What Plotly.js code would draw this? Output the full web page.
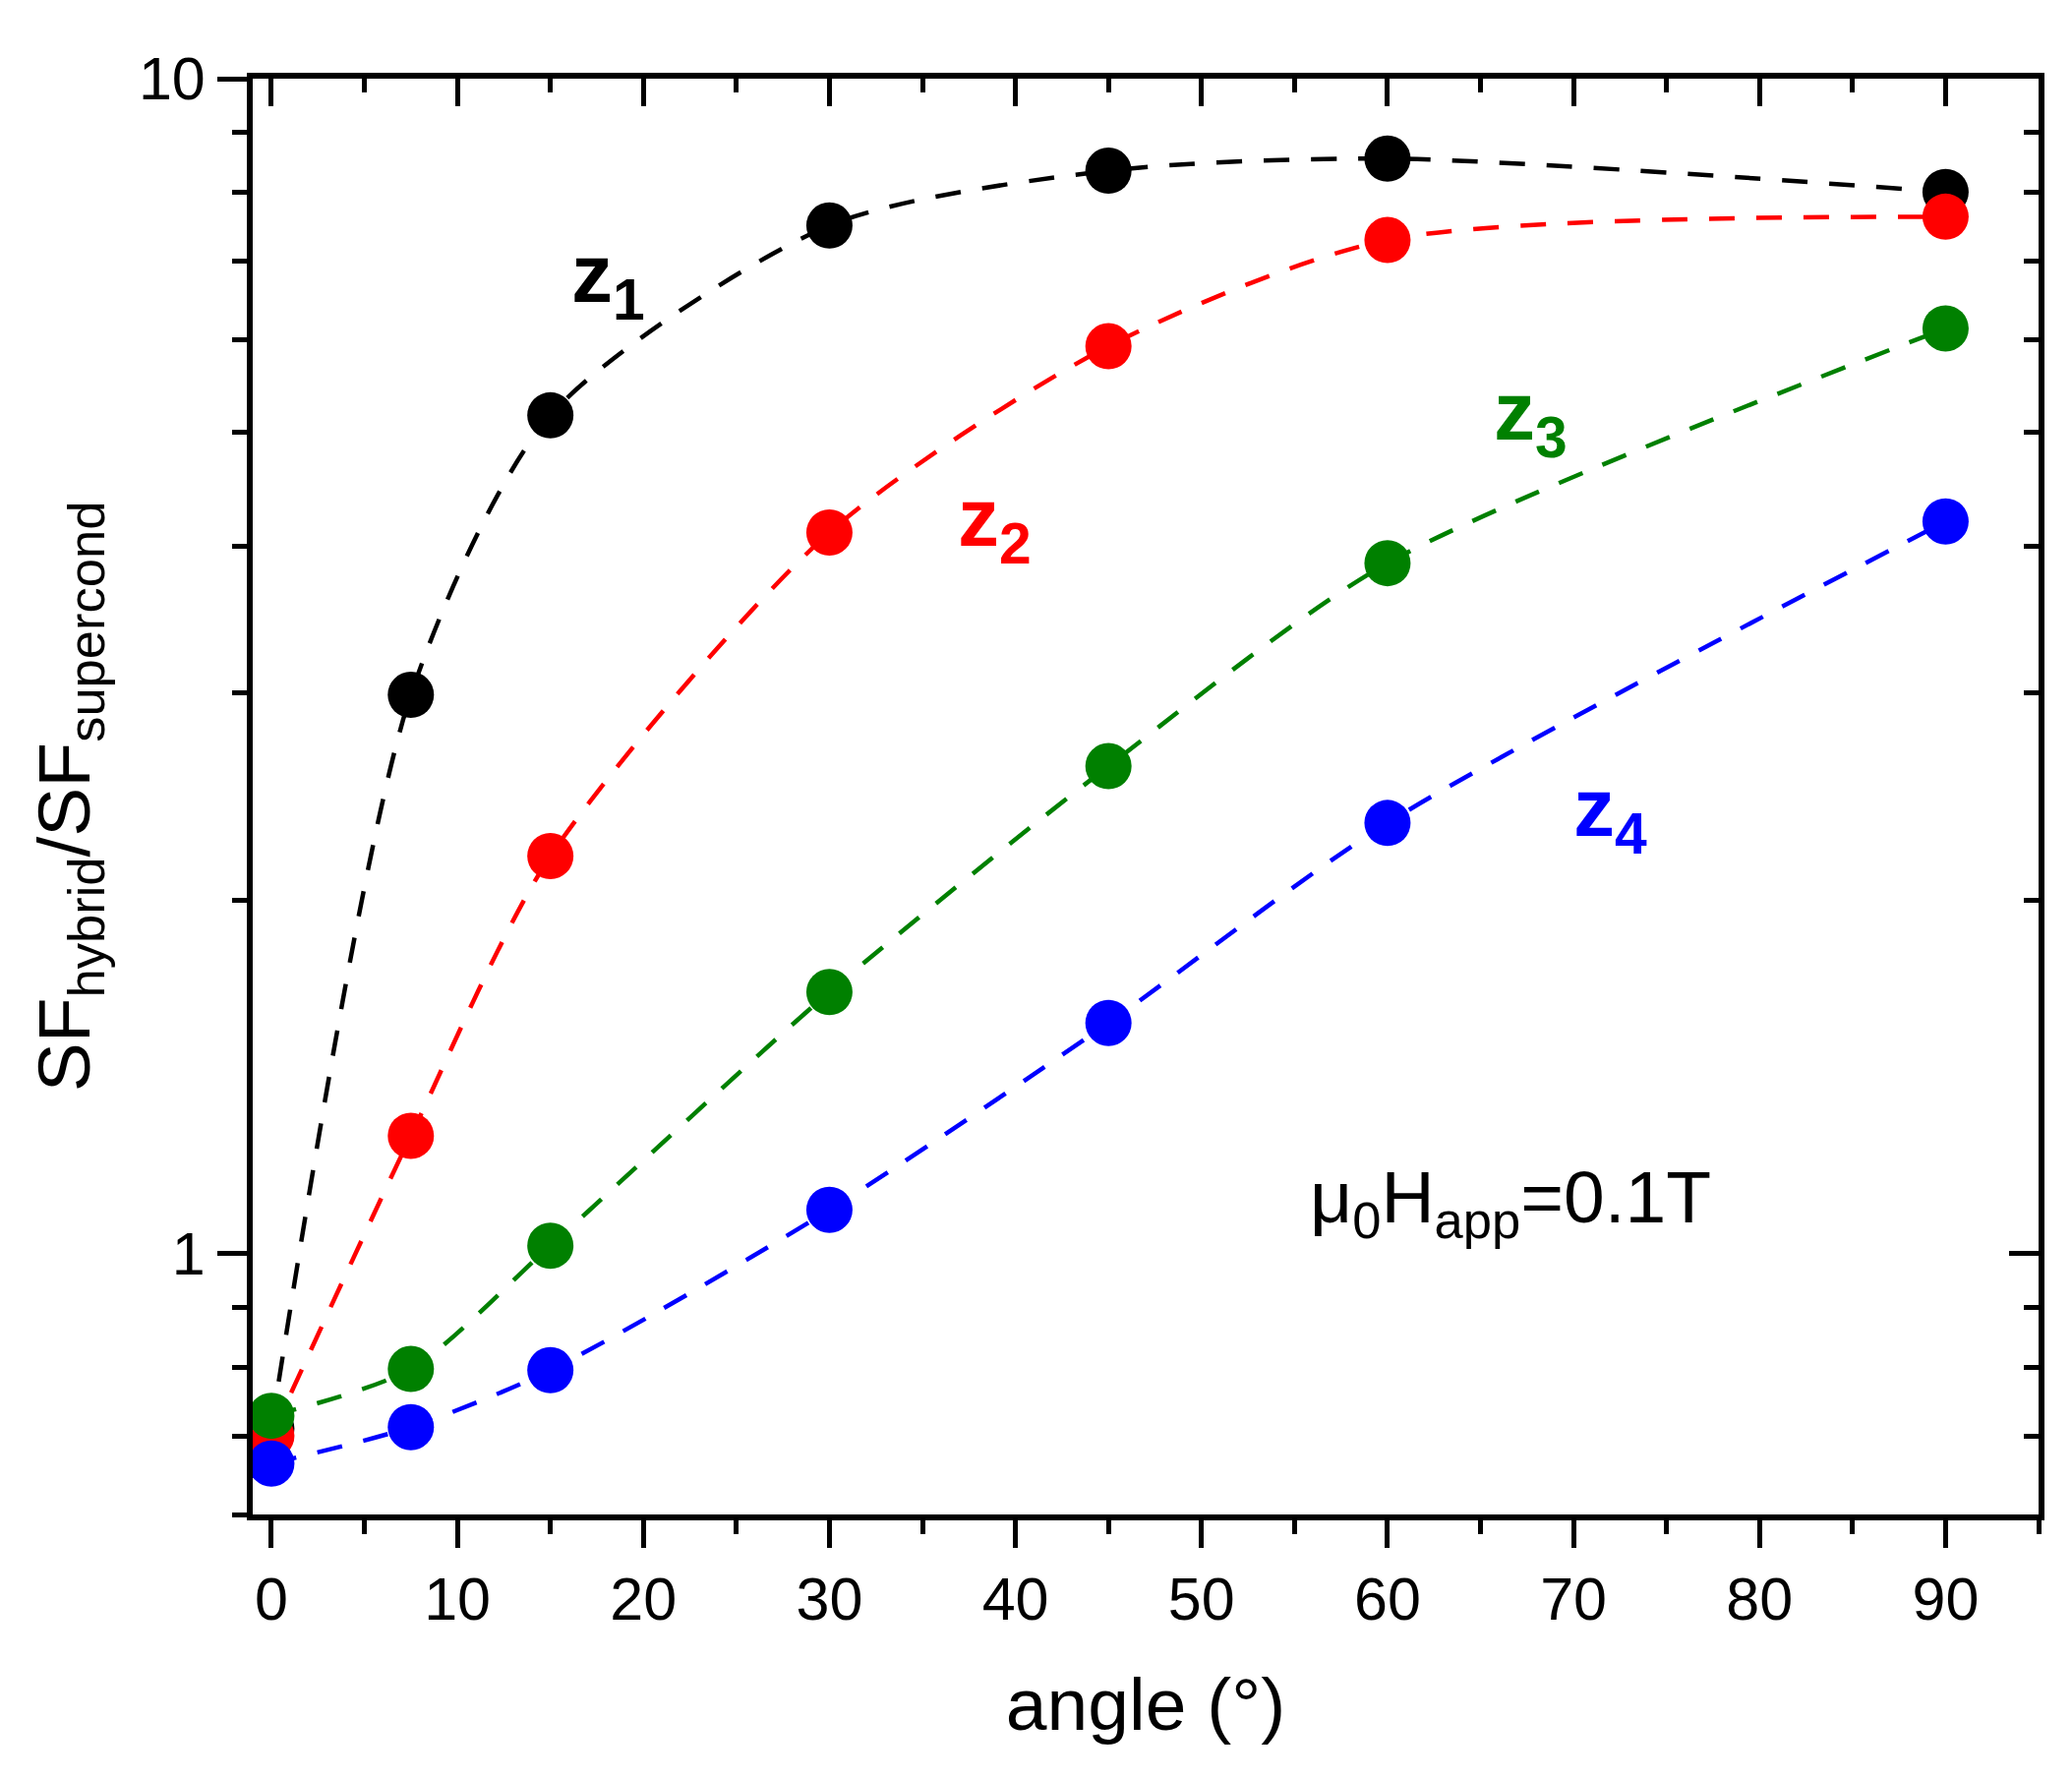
<!DOCTYPE html>
<html>
<head>
<meta charset="utf-8">
<script src="https://cdn.plot.ly/plotly-3.0.1.min.js"></script>
<style>
  html, body { margin: 0; padding: 0; background: #fff; }
  #chart_div { width: 2107px; height: 1809px; }
</style>
</head>
<body>
<div id="chart_div"></div>
<script>
// angles (deg) and SF_hybrid/SF_supercond for the four heights
var angle = [0, 7.5, 15, 30, 45, 60, 90];
var z1 = [0.71, 2.99, 5.17, 7.50, 8.35, 8.55, 8.01];
var z2 = [0.70, 1.26, 2.18, 4.11, 5.92, 7.29, 7.63];
var z3 = [0.728, 0.798, 1.016, 1.67, 2.60, 3.87, 6.13];
var z4 = [0.663, 0.712, 0.796, 1.09, 1.572, 2.326, 4.20];

var seriesNames = ["z1", "z2", "z3", "z4"];
var seriesColors = ["#000000", "#ff0000", "#008000", "#0000ff"];

var yMajor = [1, 10];
var yMajorText = ["1", "10"];
var yMinor = [0.6, 0.7, 0.8, 0.9, 2, 3, 4, 5, 6, 7, 8, 9];

var FONT = "Liberation Sans, Arial, sans-serif";

function drawChart() {

    var allY = [z1, z2, z3, z4];
    var data = [];
    for (var i = 0; i < allY.length; i++) {
        data.push({
            type: "scatter",
            mode: "lines+markers",
            name: seriesNames[i],
            x: angle,
            y: allY[i],
            line: {color: seriesColors[i], width: 4.5, dash: "26px,22px", shape: "spline", smoothing: 0.75},
            marker: {color: seriesColors[i], size: 47, symbol: "circle"},
            showlegend: false,
            hoverinfo: "x+y"
        });
    }
    // empty traces so the mirrored top / right axes get drawn
    data.push({type: "scatter", x: [], y: [], xaxis: "x2", yaxis: "y", showlegend: false, hoverinfo: "skip"});
    data.push({type: "scatter", x: [], y: [], xaxis: "x", yaxis: "y2", showlegend: false, hoverinfo: "skip"});

    var yRange = [Math.log10(0.6), 1];
    var xRange = [-1, 95];

    var layout = {
        width: 2107,
        height: 1809,
        margin: {l: 257, r: 34, t: 80, b: 269},
        paper_bgcolor: "#ffffff",
        plot_bgcolor: "#ffffff",
        font: {family: FONT, color: "#000000"},
        showlegend: false,
        xaxis: {
            range: xRange,
            showline: true, linewidth: 6, linecolor: "#000",
            ticks: "outside", ticklen: 28, tickwidth: 5, tickcolor: "#000",
            tick0: 0, dtick: 10,
            minor: {tick0: 0, dtick: 5, ticks: "outside", ticklen: 14, tickwidth: 5, tickcolor: "#000"},
            showgrid: false, zeroline: false,
            tickfont: {size: 61, family: FONT},
            title: {text: "angle (°)", font: {size: 75, family: FONT}, standoff: 49}
        },
        yaxis: {
            type: "log",
            range: yRange,
            showline: true, linewidth: 6, linecolor: "#000",
            ticks: "outside", ticklen: 30, tickwidth: 5, tickcolor: "#000",
            tickmode: "array", tickvals: yMajor, ticktext: yMajorText,
            minor: {tickmode: "array", tickvals: yMinor, ticks: "outside", ticklen: 15, tickwidth: 5, tickcolor: "#000"},
            showgrid: false, zeroline: false,
            tickfont: {size: 61, family: FONT},
            title: {text: "SF<sub>hybrid</sub>/SF<sub>supercond</sub>", font: {size: 75, family: FONT}, standoff: 27}
        },
        xaxis2: {
            overlaying: "x", side: "top", anchor: "y",
            range: xRange,
            showline: true, linewidth: 6, linecolor: "#000",
            ticks: "inside", ticklen: 28, tickwidth: 5, tickcolor: "#000",
            tick0: 0, dtick: 10,
            minor: {tick0: 0, dtick: 5, ticks: "inside", ticklen: 14, tickwidth: 5, tickcolor: "#000"},
            showticklabels: false, showgrid: false, zeroline: false
        },
        yaxis2: {
            overlaying: "y", side: "right", anchor: "x",
            type: "log",
            range: yRange,
            showline: true, linewidth: 6, linecolor: "#000",
            ticks: "inside", ticklen: 30, tickwidth: 5, tickcolor: "#000",
            tickmode: "array", tickvals: yMajor,
            minor: {tickmode: "array", tickvals: yMinor, ticks: "inside", ticklen: 15, tickwidth: 5, tickcolor: "#000"},
            showticklabels: false, showgrid: false, zeroline: false
        },
        annotations: [
            {x: 18.1, y: 0.829, xref: "x", yref: "y", text: "<b>z<sub>1</sub></b>", showarrow: false,
             xanchor: "center", yanchor: "middle", font: {size: 84, family: FONT, color: seriesColors[0]}},
            {x: 38.9, y: 0.622, xref: "x", yref: "y", text: "<b>z<sub>2</sub></b>", showarrow: false,
             xanchor: "center", yanchor: "middle", font: {size: 84, family: FONT, color: seriesColors[1]}},
            {x: 67.7, y: 0.712, xref: "x", yref: "y", text: "<b>z<sub>3</sub></b>", showarrow: false,
             xanchor: "center", yanchor: "middle", font: {size: 84, family: FONT, color: seriesColors[2]}},
            {x: 72.0, y: 0.375, xref: "x", yref: "y", text: "<b>z<sub>4</sub></b>", showarrow: false,
             xanchor: "center", yanchor: "middle", font: {size: 84, family: FONT, color: seriesColors[3]}},
            {x: 55.7, y: 0.044, xref: "x", yref: "y", text: "μ<sub>0</sub>H<sub>app</sub>=0.1T", showarrow: false,
             xanchor: "left", yanchor: "middle", font: {size: 75, family: FONT, color: "#000"}}
        ]
    };

    Plotly.newPlot("chart_div", data, layout, {staticPlot: true});
}

drawChart();
</script>
</body>
</html>
